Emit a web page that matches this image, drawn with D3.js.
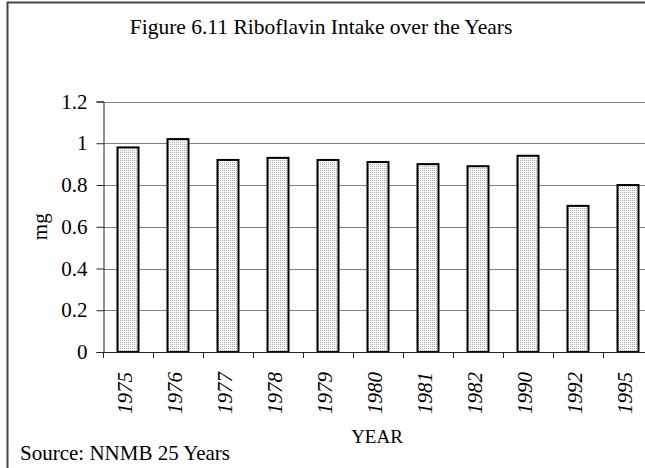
<!DOCTYPE html>
<html>
<head>
<meta charset="utf-8">
<script src="https://cdn.jsdelivr.net/npm/d3@7"></script>
<style>
  body { margin: 0; background: #fff; }
  svg, svg text { font-family: "Liberation Serif", "Times New Roman", serif; }
  svg { display: block; }
</style>
</head>
<body>
<div id="chart"></div>
<script>
const years = ["1975", "1976", "1977", "1978", "1979", "1980", "1981", "1982", "1990", "1992", "1995"];
const intake = [0.98, 1.02, 0.92, 0.93, 0.92, 0.91, 0.90, 0.89, 0.94, 0.70, 0.80];
const yTicks = [0, 0.2, 0.4, 0.6, 0.8, 1, 1.2];

const W = 645, H = 468;
const plot = { left: 103, right: 653, top: 101.5, bottom: 352 };

const svg = d3.select("#chart")
    .append("svg")
    .attr("width", W)
    .attr("height", H);

// stipple fill used by the bars
const pat = svg.append("defs")
    .append("pattern")
    .attr("id", "dots")
    .attr("patternUnits", "userSpaceOnUse")
    .attr("width", 2)
    .attr("height", 2);
pat.append("rect").attr("width", 2).attr("height", 2).attr("fill", "#fafafa");
pat.append("rect").attr("width", 1).attr("height", 1).attr("fill", "#aaaaaa");

// outer frame (runs off the right/bottom like the original)
svg.append("rect")
    .attr("x", 7.5)
    .attr("y", 2.5)
    .attr("width", 700)
    .attr("height", 520)
    .attr("fill", "none")
    .attr("stroke", "#444")
    .attr("stroke-width", 2);

const y = d3.scaleLinear()
    .domain([0, 1.2])
    .range([plot.bottom, plot.top]);

// category slots (ticks sit on the slot edges)
const xCat = d3.scaleBand()
    .domain(years)
    .range([plot.left, plot.right])
    .padding(0);

const xBar = d3.scaleBand()
    .domain(years)
    .range([plot.left, plot.right])
    .paddingInner(0.58)
    .paddingOuter(0.29);

// gridlines
svg.append("g")
    .selectAll("line")
    .data(yTicks.filter(d => d > 0))
    .join("line")
    .attr("x1", plot.left)
    .attr("x2", plot.right)
    .attr("y1", d => Math.round(y(d)) + 0.5)
    .attr("y2", d => Math.round(y(d)) + 0.5)
    .attr("stroke", "#808080")
    .attr("stroke-width", 1);

// y axis
const yAxis = svg.append("g")
    .attr("transform", "translate(" + (plot.left + 0.5) + ",0)")
    .call(d3.axisLeft(y)
        .tickValues(yTicks)
        .tickSize(7)
        .tickPadding(9)
        .tickFormat(d3.format("~g")));
yAxis.attr("font-family", null).attr("font-size", null);
yAxis.select(".domain").attr("stroke", "#222");
yAxis.selectAll(".tick line").attr("stroke", "#222");
yAxis.selectAll("text")
    .attr("font-size", 21)
    .attr("fill", "#000");

// bars
svg.append("g")
    .selectAll("rect")
    .data(years)
    .join("rect")
    .attr("x", d => xBar(d))
    .attr("y", (d, i) => y(intake[i]))
    .attr("width", xBar.bandwidth())
    .attr("height", (d, i) => y(0) - y(intake[i]))
    .attr("fill", "url(#dots)")
    .attr("stroke", "#000")
    .attr("stroke-width", 2);

// x axis line and ticks
svg.append("line")
    .attr("x1", plot.left)
    .attr("x2", plot.right)
    .attr("y1", plot.bottom + 0.5)
    .attr("y2", plot.bottom + 0.5)
    .attr("stroke", "#222");

svg.append("g")
    .selectAll("line")
    .data(years.map(d => xCat(d)).concat([plot.right]))
    .join("line")
    .attr("x1", d => Math.round(d) + 0.5)
    .attr("x2", d => Math.round(d) + 0.5)
    .attr("y1", plot.bottom)
    .attr("y2", plot.bottom + 6)
    .attr("stroke", "#222");

// rotated italic year labels
svg.append("g")
    .selectAll("text")
    .data(years)
    .join("text")
    .attr("transform", d => "translate(" + (xCat(d) + xCat.bandwidth() / 2 + 4) + "," + (plot.bottom + 20) + ") rotate(-90)")
    .attr("text-anchor", "end")
    .attr("font-size", 21)
    .attr("font-style", "italic")
    .text(d => d);

// titles
svg.append("text")
    .attr("x", 321)
    .attr("y", 34)
    .attr("text-anchor", "middle")
    .attr("font-size", 21.5)
    .text("Figure 6.11 Riboflavin Intake over the Years");

svg.append("text")
    .attr("transform", "translate(47," + ((plot.top + plot.bottom) / 2) + ") rotate(-90)")
    .attr("text-anchor", "middle")
    .attr("font-size", 21)
    .text("mg");

svg.append("text")
    .attr("x", 377)
    .attr("y", 443)
    .attr("text-anchor", "middle")
    .attr("font-size", 19)
    .text("YEAR");

svg.append("text")
    .attr("x", 20)
    .attr("y", 460)
    .attr("font-size", 21)
    .text("Source: NNMB 25 Years");
</script>
</body>
</html>
